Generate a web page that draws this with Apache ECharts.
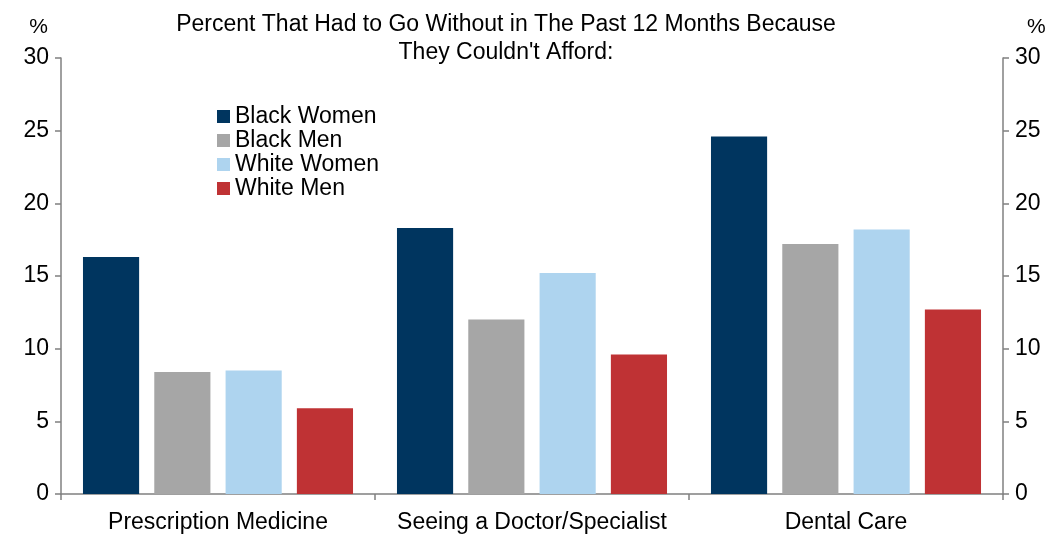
<!DOCTYPE html>
<html>
<head>
<meta charset="utf-8">
<script src="https://cdn.jsdelivr.net/npm/echarts@6/dist/echarts.min.js"></script>
<style>html,body{margin:0;padding:0;background:#fff}#c{width:1062px;height:535px}</style>
</head>
<body>
<div id="c"></div>
<script>
const categories = ['Prescription Medicine', 'Seeing a Doctor/Specialist', 'Dental Care'];
const seriesNames = ['Black Women', 'Black Men', 'White Women', 'White Men'];
const blackWomen = [16.3, 18.3, 24.6];
const blackMen = [8.4, 12.0, 17.2];
const whiteWomen = [8.5, 15.2, 18.2];
const whiteMen = [5.9, 9.6, 12.7];
const yTicks = [0, 5, 10, 15, 20, 25, 30];
const colors = ['#00355F', '#A6A6A6', '#AED4EF', '#BF3234'];
const titleText = "Percent That Had to Go Without in The Past 12 Months Because\nThey Couldn't Afford:";

const FONT = 'Liberation Sans, Arial, sans-serif';
const FS = 23;
const chart = echarts.init(document.getElementById('c'), null, {renderer: 'canvas'});
const values = [blackWomen, blackMen, whiteWomen, whiteMen];
const axisCommon = {
  type: 'value', min: yTicks[0], max: yTicks[yTicks.length - 1], interval: 5,
  splitLine: {show: false},
  axisLine: {show: true, lineStyle: {color: '#808080', width: 1.5}},
  axisTick: {show: true, length: 6, lineStyle: {color: '#808080', width: 1.5}},
  axisLabel: {color: '#000', fontSize: FS, fontFamily: FONT, margin: 12},
  name: '%',
  nameLocation: 'end',
  nameGap: 20,
  nameTextStyle: {color: '#000', fontSize: FS - 2, fontFamily: FONT}
};
chart.setOption({
  animation: false,
  title: {
    text: titleText, left: 501, top: 6, textAlign: 'center',
    textStyle: {color: '#000', fontSize: FS, fontWeight: 'normal', fontFamily: FONT, lineHeight: 28}
  },
  legend: {
    orient: 'vertical', left: 212, top: 100, itemWidth: 13, itemHeight: 13, itemGap: 1,
    icon: 'rect',
    textStyle: {color: '#000', fontSize: FS, fontFamily: FONT},
    data: seriesNames
  },
  grid: {left: 61, right: 59, top: 58, bottom: 41},
  xAxis: {
    type: 'category', data: categories,
    axisLine: {lineStyle: {color: '#808080', width: 1.5}},
    axisTick: {show: true, interval: 0, length: 6, lineStyle: {color: '#808080', width: 1.5}},
    axisLabel: {interval: 0, color: '#000', fontSize: FS, fontFamily: FONT, margin: 17}
  },
  yAxis: [
    Object.assign({}, axisCommon, {position: 'left', nameTextStyle: Object.assign({}, axisCommon.nameTextStyle, {align: 'right', padding: [0, 13, 0, 0]})}),
    Object.assign({}, axisCommon, {position: 'right', nameTextStyle: Object.assign({}, axisCommon.nameTextStyle, {align: 'left', padding: [0, 0, 0, 24]})})
  ],
  series: seriesNames.map((n, i) => ({
    name: n, type: 'bar', data: values[i], yAxisIndex: 0,
    barGap: '27%', barCategoryGap: '14%',
    itemStyle: {color: colors[i]}
  }))
});
</script>
</body>
</html>
